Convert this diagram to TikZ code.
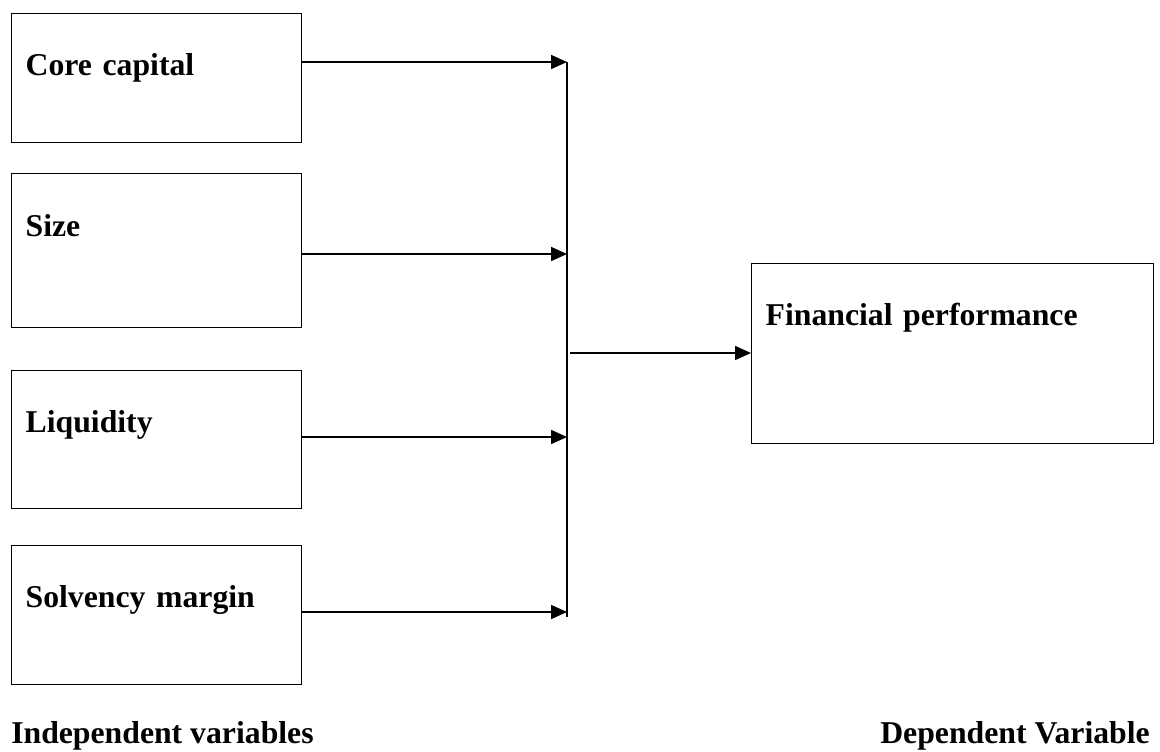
\documentclass[tikz,border=0pt]{standalone}
\usepackage{fontspec}
\setmainfont{Liberation Serif}
\usepackage{tikz}
\usetikzlibrary{arrows.meta, positioning, calc}

\newdimen\pxu \pxu=0.75pt

\tikzset{
  varbox/.style={draw, line width=1pt, rectangle, anchor=north west, align=left,
    inner xsep=14\pxu, inner ysep=0pt, text width=262\pxu,
    font=\fontsize{23.8}{28}\selectfont\bfseries},
  flow/.style={line width=1.3pt, -{Triangle[length=12pt, width=10.5pt]}},
  caption/.style={anchor=base west, inner sep=0pt, font=\fontsize{23.8}{28}\selectfont\bfseries}
}

\begin{document}
\begin{tikzpicture}[x=1\pxu, y=-1\pxu]
  \useasboundingbox (0,0) rectangle (1160,751);

  % Independent variables
  \node[varbox, text height=62\pxu, text depth=67\pxu] (core) at (11,13) {Core capital};
  \node[varbox, text height=63\pxu, text depth=91\pxu] (size) at (11,173) {Size};
  \node[varbox, text height=62\pxu, text depth=76\pxu] (liq) at (11,370) {Liquidity};
  \node[varbox, text height=62\pxu, text depth=77\pxu] (solv) at (11,545) {Solvency margin};

  % Dependent variable
  \node[varbox, text width=374\pxu, text height=62\pxu, text depth=118\pxu] (perf) at (751,263) {Financial performance};

  % collecting line
  \coordinate (j1) at (567,62);
  \coordinate (j2) at (567,254);
  \coordinate (j3) at (567,437);
  \coordinate (j4) at (567,612);
  \coordinate (jend) at (567,617);
  \coordinate (jout) at (570,353);
  \draw[line width=0.8pt] (j1) -- (jend);

  \draw[flow] (core.east |- j1) -- (j1);
  \draw[flow] (size.east |- j2) -- (j2);
  \draw[flow] (liq.east |- j3) -- (j3);
  \draw[flow] (solv.east |- j4) -- (j4);
  \draw[flow] (jout) -- (jout -| perf.west);

  % captions
  \node[caption] (indep) at (11,743) {Independent variables};
  \node[caption, anchor=base east] (dep) at (1150,743) {Dependent Variable};
\end{tikzpicture}
\end{document}
